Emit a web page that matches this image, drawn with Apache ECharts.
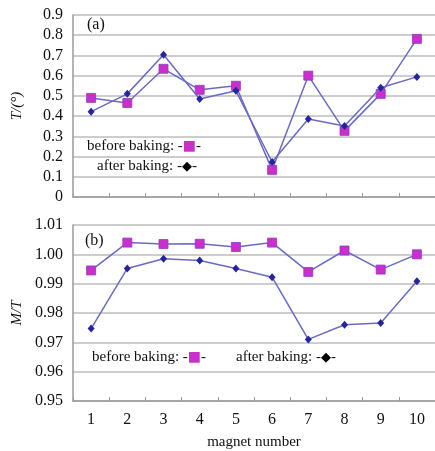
<!DOCTYPE html>
<html><head><meta charset="utf-8">
<script src="https://cdn.jsdelivr.net/npm/echarts@6/dist/echarts.min.js"></script>
<style>html,body{margin:0;padding:0;background:#fff}#c{width:435px;height:451px}</style>
</head><body><div id="c"></div>
<script>
const categories = ['1','2','3','4','5','6','7','8','9','10'];
const tBefore = [0.490, 0.465, 0.634, 0.530, 0.550, 0.134, 0.600, 0.327, 0.510, 0.782];
const tAfter  = [0.422, 0.510, 0.703, 0.485, 0.525, 0.173, 0.386, 0.351, 0.540, 0.594];
const mBefore = [0.9945, 1.0040, 1.0035, 1.0036, 1.0025, 1.0040, 0.9940, 1.0013, 0.9948, 1.0000];
const mAfter  = [0.9747, 0.9952, 0.9985, 0.9979, 0.9952, 0.9922, 0.9710, 0.9760, 0.9766, 0.9908];

const font = 'Liberation Serif';
const lineColor = '#6a6ac6';
const sqColor = '#cc2ecc';
const dmColor = '#2424a0';

const chart = echarts.init(document.getElementById('c'), null, {renderer:'canvas'});
const xBase = {
  type:'category', data:categories, boundaryGap:true,
  axisLine:{lineStyle:{color:'#9a9a9a', width:1.5}},
  axisTick:{show:true, inside:true, length:4, lineStyle:{color:'#9a9a9a'}},
  splitLine:{show:false}
};
const yBase = {
  type:'value',
  axisLine:{show:true, lineStyle:{color:'#9a9a9a', width:1.5}},
  axisTick:{show:false},
  splitLine:{lineStyle:{color:'#bdbdbd', width:1.5}},
  axisLabel:{color:'#111', fontFamily:font, fontSize:16, margin:10},
  nameLocation:'middle', nameRotate:90,
  nameTextStyle:{color:'#111', fontFamily:font, fontSize:15, fontStyle:'italic'}
};
const before = (data, xi) => ({type:'line', xAxisIndex:xi, yAxisIndex:xi, data,
  symbol:'rect', symbolSize:9, lineStyle:{color:lineColor, width:1.5},
  itemStyle:{color:sqColor, borderColor:'#8a3acb', borderWidth:0.8}, z:3});
const after = (data, xi) => ({type:'line', xAxisIndex:xi, yAxisIndex:xi, data,
  symbol:'diamond', symbolSize:[7,8], lineStyle:{color:lineColor, width:1.5},
  itemStyle:{color:dmColor}, z:4});

chart.setOption({
  animation:false,
  grid:[
    {left:73, top:15, width:366, height:182},
    {left:73, top:225, width:366, height:177}
  ],
  xAxis:[
    Object.assign({}, xBase, {gridIndex:0, axisLabel:{show:false}}),
    Object.assign({}, xBase, {gridIndex:1,
      axisLabel:{color:'#111', fontFamily:font, fontSize:16, margin:11},
      name:'magnet number', nameLocation:'middle', nameGap:34,
      nameTextStyle:{color:'#111', fontFamily:font, fontSize:15}})
  ],
  yAxis:[
    Object.assign({}, yBase, {gridIndex:0, min:0, max:0.9, interval:0.1,
      name:'T/(°)', nameGap:48,
      axisLabel:Object.assign({}, yBase.axisLabel, {formatter:v=>String(+v.toFixed(1))})}),
    Object.assign({}, yBase, {gridIndex:1, min:0.95, max:1.01, interval:0.01,
      name:'M/T', nameGap:48,
      axisLabel:Object.assign({}, yBase.axisLabel, {formatter:v=>v.toFixed(2)})})
  ],
  series:[
    before(tBefore,0), after(tAfter,0),
    before(mBefore,1), after(mAfter,1)
  ],
  graphic:[
    {type:'text', left:87, top:17, style:{text:'(a)', font:'16px "Liberation Serif"', fill:'#111'}},
    {type:'text', left:85, top:233, style:{text:'(b)', font:'16px "Liberation Serif"', fill:'#111'}},
    {type:'text', left:87, top:139, style:{text:'{t|before baking: -}{s|■}{t|-}',
      rich:{t:{font:'15px "Liberation Serif"', fill:'#111'}, s:{font:'14px "DejaVu Sans"', fill:sqColor}}}},
    {type:'text', left:97, top:159, style:{text:'{t|after baking: -}{s|◆}{t|-}',
      rich:{t:{font:'15px "Liberation Serif"', fill:'#111'}, s:{font:'13px "DejaVu Sans"', fill:'#000'}}}},
    {type:'text', left:92, top:350, style:{text:'{t|before baking: -}{s|■}{t|-}',
      rich:{t:{font:'15px "Liberation Serif"', fill:'#111'}, s:{font:'14px "DejaVu Sans"', fill:sqColor}}}},
    {type:'text', left:236, top:350, style:{text:'{t|after baking: -}{s|◆}{t|-}',
      rich:{t:{font:'15px "Liberation Serif"', fill:'#111'}, s:{font:'13px "DejaVu Sans"', fill:'#000'}}}}
  ]
});
</script></body></html>
